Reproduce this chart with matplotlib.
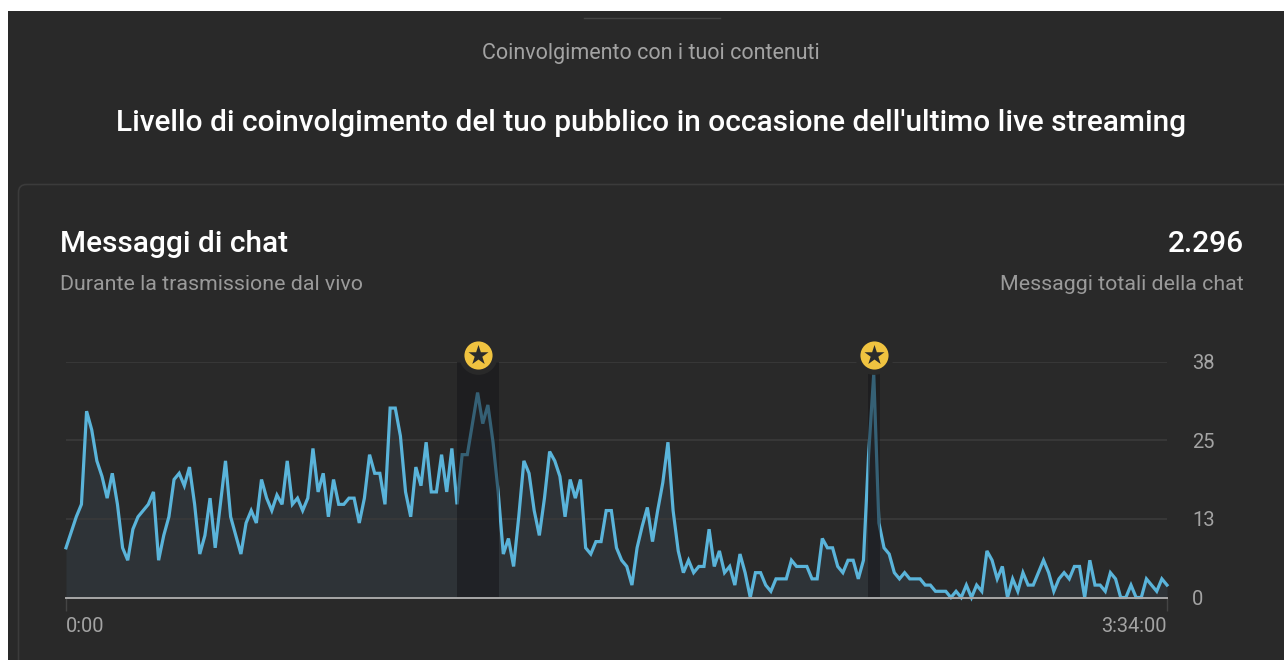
# -*- coding: utf-8 -*-
import numpy as np
import matplotlib
matplotlib.use("Agg")
import matplotlib.pyplot as plt
from matplotlib.patches import Rectangle, FancyBboxPatch

plt.rcParams['font.family'] = ['Roboto', 'DejaVu Sans']

# messaggi di chat, un punto al minuto (0:00 - 3:34:00)
messages = [
    8, 10.5, 13, 15, 30, 27, 22, 19.5, 16, 20, 15, 8, 6, 11, 13, 14, 15, 17, 6, 10,
    13, 19, 20, 18, 21, 15, 7, 10, 16, 8, 15, 22, 13, 10, 7, 12, 14, 12, 19, 16,
    14, 16.5, 15, 22, 15, 16, 14, 16, 24, 17, 20, 13, 19, 15, 15, 16, 16, 12, 16, 23,
    20, 20, 15, 30.5, 30.5, 26, 17, 13, 21, 18, 25, 17, 17, 23, 17, 24, 15, 23, 23, 28,
    33, 28, 31, 25, 17, 7, 9.5, 5, 13, 22, 20, 14, 10, 16, 23.5, 22, 19.5, 13, 19, 16,
    19, 8, 7, 9, 9, 14, 14, 8, 6, 5, 2, 8, 11.5, 14.5, 9, 14, 18.5, 25, 14, 7.5,
    4, 6, 4, 5, 5, 11, 5, 7.5, 4, 5, 2, 7, 4, 0, 4, 4, 2, 1, 3, 3,
    3, 6, 5, 5, 5, 3, 3, 9.5, 8, 8, 5, 4, 6, 6, 3, 6, 23, 36, 12,
    8, 7, 4, 3, 4, 3, 3, 3, 2, 2, 1, 1, 1, 0, 1, 0, 2, 0, 2, 1,
    7.5, 6, 3, 5, 0, 3, 1, 4, 2, 2, 4, 6, 4, 1, 3, 4, 3, 5, 5, 0,
    6, 2, 2, 1, 4, 3, 0, 0, 2, 0, 0, 3, 2, 1, 3, 2,
]
y_ticks = [0, 12.67, 25.33, 38]
y_labels = ['0', '13', '25', '38']
x_ticks = [0, 214]
x_labels = ['0:00', '3:34:00']
highlight_spans = [(76, 84.2), (155.9, 158.2)]
highlight_tops = [38, 36]
highlight_centers = [80, 157]

BG = '#292929'
W, H = 1284, 660

fig = plt.figure(figsize=(W / 100, H / 100), dpi=100, facecolor='white')

# sfondo e testi in coordinate pixel
bg = fig.add_axes([0, 0, 1, 1])
bg.set_xlim(0, W)
bg.set_ylim(H, 0)
bg.axis('off')
bg.add_patch(Rectangle((8, 11), W - 8, H - 11, color=BG, lw=0))
bg.add_patch(FancyBboxPatch((18.5, 184.5), W + 40, H, boxstyle='round,pad=0,rounding_size=8',
                            fc='none', ec='#3b3b3b', lw=1.2))
bg.plot([584, 720], [18, 18], color='#444444', lw=1)

bg.text(651, 53, 'Coinvolgimento con i tuoi contenuti', color='#a3a3a3', fontsize=15.5,
        ha='center', va='center')
bg.text(651.5, 123, "Livello di coinvolgimento del tuo pubblico in occasione dell'ultimo live streaming",
        color='white', fontsize=21.5, fontweight='medium', ha='center', va='center')
bg.text(60, 244, 'Messaggi di chat', color='white', fontsize=21.5, fontweight='medium',
        ha='left', va='center')
bg.text(60, 284, 'Durante la trasmissione dal vivo', color='#9a9a9a', fontsize=15.4,
        ha='left', va='center')
bg.text(1244, 244, '2.296', color='white', fontsize=21.5, fontweight='medium',
        ha='right', va='center')
bg.text(1244, 284, 'Messaggi totali della chat', color='#9a9a9a', fontsize=15.4,
        ha='right', va='center')

# grafico
ax = fig.add_axes([66 / W, (H - 597.5) / H, 1101 / W, 236 / H])
ax.patch.set_alpha(0)
x = np.arange(len(messages))
ax.set_xlim(x_ticks[0], x_ticks[1])
ax.set_ylim(0, 38)

ax.fill_between(x, messages, 0, color='#2e3337', lw=0, zorder=1)
ax.set_yticks(y_ticks)
ax.set_yticklabels(y_labels)
ax.yaxis.tick_right()
ax.grid(axis='y', color='#3a3a3a', lw=1.2, zorder=2)
ax.set_axisbelow(False)
ax.plot(x, messages, color='#5ab4da', lw=2.3, solid_joinstyle='miter', zorder=3, clip_on=False)

for (x0, x1), top in zip(highlight_spans, highlight_tops):
    ax.fill_between([x0, x1], 0, top, color='#141418', alpha=0.52, lw=0, zorder=4)

ax.tick_params(axis='y', length=0, pad=18, labelsize=14.5, labelcolor='#a3a3a3')
ax.set_xticks(x_ticks)
ax.set_xticklabels(x_labels, fontsize=14.4, color='#a3a3a3')
ax.get_xticklabels()[0].set_ha('left')
ax.get_xticklabels()[1].set_ha('right')
ax.tick_params(axis='x', length=9, width=1, color='#444444', pad=5)
for name in ['top', 'left', 'right']:
    ax.spines[name].set_visible(False)
ax.spines['bottom'].set_color('#a8a8a8')
ax.spines['bottom'].set_linewidth(1.4)
ax.spines['bottom'].set_zorder(5)

# marcatori con la stella
marker_y = [39, 39]
ax.scatter(highlight_centers, marker_y, s=780, color=BG, lw=0, clip_on=False, zorder=6)
ax.scatter(highlight_centers, marker_y, s=410, color='#f0c340', lw=0, clip_on=False, zorder=7)
ax.scatter(highlight_centers, marker_y, s=230, marker='*', color='#2b2b2b', lw=0, clip_on=False, zorder=8)

fig.savefig('out.png', dpi=100)
